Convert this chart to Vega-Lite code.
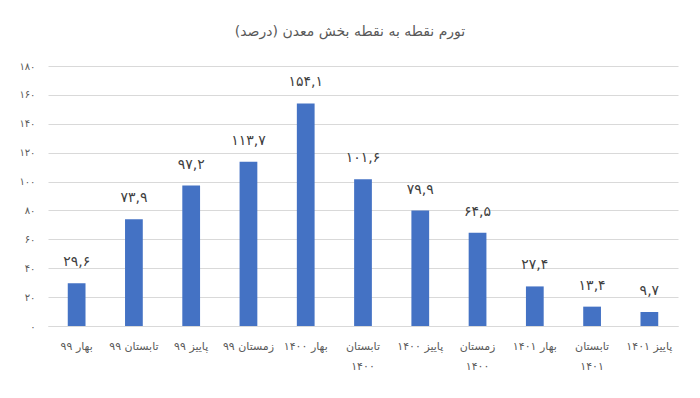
{
  "$schema": "https://vega.github.io/schema/vega-lite/v6.json",
  "width": 630,
  "height": 260,
  "autosize": {"type": "none"},
  "padding": {"left": 48, "top": 66, "right": 22, "bottom": 72},
  "background": "white",
  "title": {
    "text": "تورم نقطه به نقطه بخش معدن (درصد)",
    "font": "DejaVu Sans",
    "fontSize": 14,
    "fontWeight": "normal",
    "color": "#595959",
    "anchor": "middle",
    "frame": "group",
    "dx": -13,
    "offset": 22
  },
  "config": {
    "view": {"stroke": null},
    "font": "DejaVu Sans"
  },
  "data": {
    "values": [
      {"period": "بهار ۹۹", "value": 29.6},
      {"period": "تابستان ۹۹", "value": 73.9},
      {"period": "پاییز ۹۹", "value": 97.2},
      {"period": "زمستان ۹۹", "value": 113.7},
      {"period": "بهار ۱۴۰۰", "value": 154.1},
      {"period": "تابستان\n۱۴۰۰", "value": 101.6},
      {"period": "پاییز ۱۴۰۰", "value": 79.9},
      {"period": "زمستان\n۱۴۰۰", "value": 64.5},
      {"period": "بهار ۱۴۰۱", "value": 27.4},
      {"period": "تابستان\n۱۴۰۱", "value": 13.4},
      {"period": "پاییز ۱۴۰۱", "value": 9.7}
    ]
  },
  "transform": [
    {
      "calculate": "replace(replace(replace(replace(replace(replace(replace(replace(replace(replace(replace(format(datum.value, '.1f'), regexp('0','g'), '۰'), regexp('1','g'), '۱'), regexp('2','g'), '۲'), regexp('3','g'), '۳'), regexp('4','g'), '۴'), regexp('5','g'), '۵'), regexp('6','g'), '۶'), regexp('7','g'), '۷'), regexp('8','g'), '۸'), regexp('9','g'), '۹'), regexp('[.]','g'), ',')",
      "as": "label"
    }
  ],
  "encoding": {
    "x": {
      "field": "period",
      "type": "nominal",
      "sort": null,
      "title": null,
      "scale": {"paddingInner": 0.69, "paddingOuter": 0.345},
      "axis": {
        "labelAngle": 0,
        "labelExpr": "split(datum.label, '\\n')",
        "labelFontSize": 11,
        "labelColor": "#595959",
        "labelPadding": 14,
        "labelLineHeight": 20,
        "labelLimit": 0,
        "ticks": false,
        "domainColor": "#d9d9d9",
        "labelOverlap": false
      }
    },
    "y": {
      "field": "value",
      "type": "quantitative",
      "title": null,
      "scale": {"domain": [0, 180]},
      "axis": {
        "values": [0, 20, 40, 60, 80, 100, 120, 140, 160, 180],
        "labelExpr": "replace(replace(replace(replace(replace(replace(replace(replace(replace(replace(datum.label, regexp('0','g'), '۰'), regexp('1','g'), '۱'), regexp('2','g'), '۲'), regexp('3','g'), '۳'), regexp('4','g'), '۴'), regexp('5','g'), '۵'), regexp('6','g'), '۶'), regexp('7','g'), '۷'), regexp('8','g'), '۸'), regexp('9','g'), '۹')",
        "labelFontSize": 10,
        "labelColor": "#595959",
        "labelPadding": 13,
        "ticks": false,
        "domain": false,
        "gridColor": "#d9d9d9"
      }
    }
  },
  "layer": [
    {"mark": {"type": "bar", "color": "#4472C4"}},
    {
      "mark": {"type": "text", "dy": -14, "fontSize": 14, "color": "#404040", "baseline": "bottom", "dx": 0},
      "encoding": {"text": {"field": "label"}}
    }
  ]
}
